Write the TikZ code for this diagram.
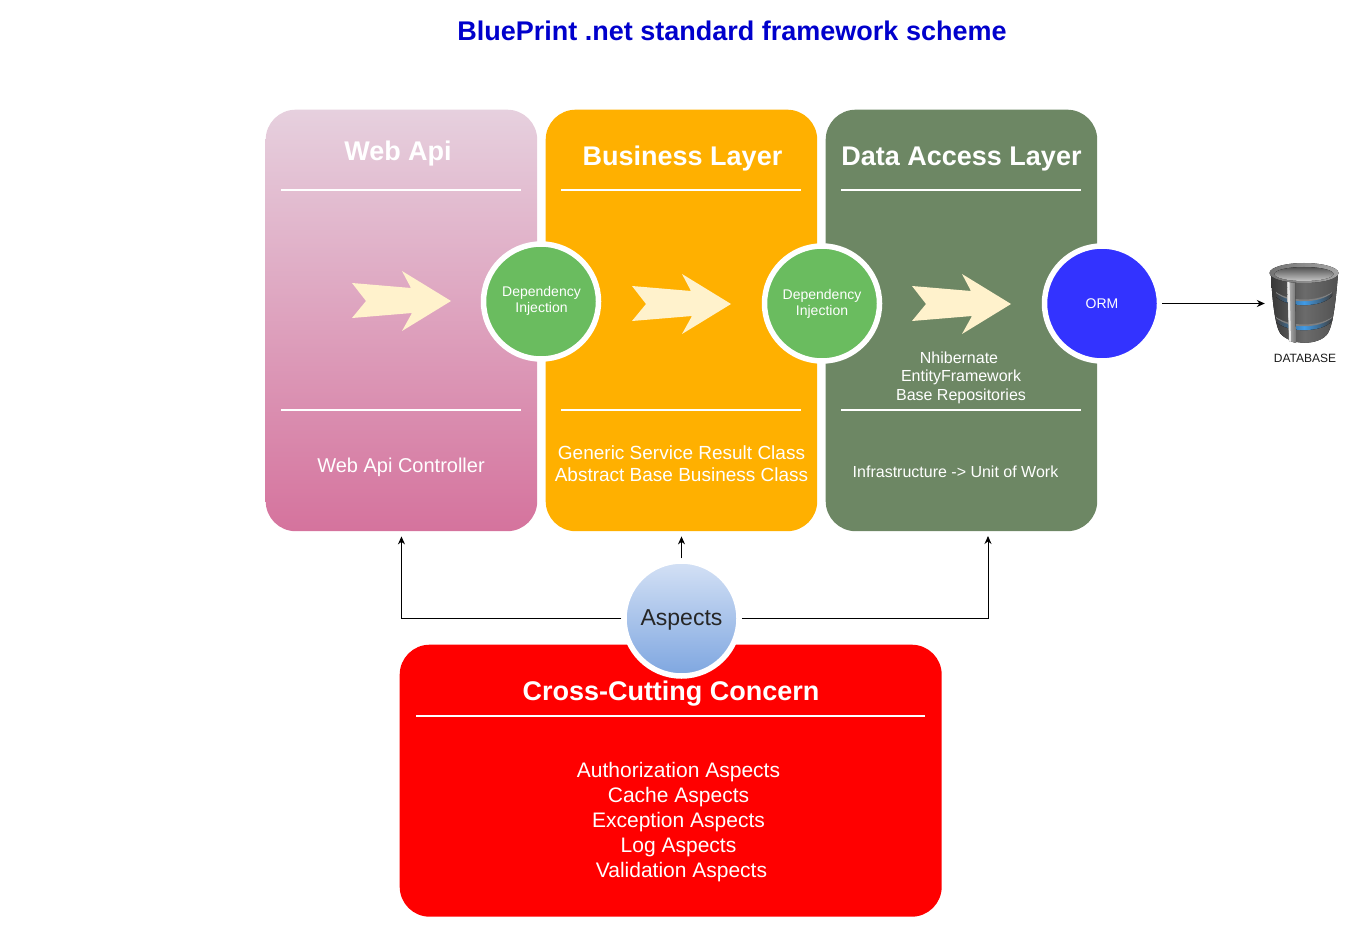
\documentclass[tikz,border=0pt]{standalone}
\usepackage{fontspec}
\setmainfont{Liberation Sans}
\usetikzlibrary{arrows.meta}
\definecolor{titleblue}{HTML}{0000CC}
\definecolor{webtop}{HTML}{E6D0DE}
\definecolor{webbot}{HTML}{D5739D}
\definecolor{bizfill}{HTML}{FFB000}
\definecolor{dalfill}{HTML}{6D8764}
\definecolor{digreen}{HTML}{6ABC5F}
\definecolor{ormblue}{HTML}{3333FF}
\definecolor{arrowcream}{HTML}{FFF2CC}
\definecolor{asptop}{HTML}{D4E1F5}
\definecolor{aspbot}{HTML}{7EA6E0}
\definecolor{dbblue}{HTML}{3F9BE8}
\tikzset{
  x=1pt,y=-1pt,
  panel/.style={rounded corners=30,minimum width=271.5,minimum height=421.5,inner sep=0,anchor=north west},
  rule/.style={draw=white,line width=1.6},
  ptitle/.style={text=white,font=\fontsize{27}{30}\selectfont\bfseries,inner sep=0},
  ptext/.style={text=white,font=\fontsize{20}{23}\selectfont,inner sep=0,align=center},
  btext/.style={text=white,font=\fontsize{19}{22}\selectfont,inner sep=0,align=center},
  ctext/.style={text=white,font=\fontsize{21}{24}\selectfont,inner sep=0,align=center},
  stext/.style={text=white,font=\fontsize{16}{19}\selectfont,inner sep=0,align=center},
  ditext/.style={text=white,font=\fontsize{14}{16}\selectfont,inner sep=0,align=center},
  ring/.style={circle,fill=#1,draw=white,line width=5.5,minimum size=115,inner sep=0,outer sep=2.75},
  conn/.style={draw=black,line width=1,-{Stealth[length=8,width=7]}},
  chevron/.style={fill=arrowcream},
}
\newcommand{\chev}[2]{\fill[chevron,shift={(#1,#2)}] (352,283) -- (411,288) -- (402,271) -- (451,301) -- (402,331) -- (412,313) -- (352,318) -- (366,301) -- cycle;}
\newcommand{\dbband}[1]{\fill[left color=black!75,right color=black!75,middle color=dbblue,shift={(0,#1)}]
  (1276,291) .. controls (1290,302) and (1318,302) .. (1332,291) -- (1332,295) .. controls (1322,307) and (1288,307) .. (1276,296) -- cycle;
  \fill[black!50,shift={(0,#1)}] (1276,292) .. controls (1290,303) and (1318,303) .. (1332,292) -- (1332,291) .. controls (1318,301) and (1290,301) .. (1276,291) -- cycle;}
\begin{document}
\begin{tikzpicture}
\useasboundingbox (0,0) rectangle (1346,925);
\node (title) [font=\fontsize{27}{30}\selectfont\bfseries,text=titleblue,inner sep=0] at (732,31) {BluePrint .net standard framework scheme};

\node (web) [panel,top color=webtop,bottom color=webbot] at (265.5,109.5) {};
\node (biz) [panel,fill=bizfill] at (545.5,109.5) {};
\node (dal) [panel,fill=dalfill] at (825.5,109.5) {};

\node (webt) [ptitle] at (398,154) {Web Api};
\node (bizt) [ptitle] at (682.5,159) {Business Layer};
\node (dalt) [ptitle] at (961.5,159) {Data Access Layer};

\foreach \a/\b in {281/521,561/801,841/1081}{
  \draw[rule] (\a,190) -- (\b,190);
  \draw[rule] (\a,410) -- (\b,410);
}

\chev{0}{0}
\chev{280}{3}
\chev{560}{3}

\node (webc) [ptext] at (401,467) {Web Api Controller};
\node (biz1) [btext] at (681.5,453) {Generic Service Result Class};
\node (biz2) [btext] at (681.5,475) {Abstract Base Business Class};
\node (dal1) [stext] at (959,358) {Nhibernate};
\node (dal2) [stext] at (961,377) {EntityFramework};
\node (dal3) [stext] at (961,396) {Base Repositories};
\node (dal4) [stext] at (955.5,472) {Infrastructure -> Unit of Work};

\node (di1) [ring=digreen] at (541,301.5) {};
\node (di1t) [ditext] at (541.5,301) {Dependency\\Injection};
\node (di2) [ring=digreen,ditext] at (822,303.5) {Dependency\\Injection};
\node (orm) [ring=ormblue,ditext] at (1102,303.5) {ORM};

\node (cross) [rounded corners=30,fill=red,minimum width=542,minimum height=272,inner sep=0,anchor=north west] at (399.5,644.5) {};
\node (asp) [ring=asptop,shading=axis,top color=asptop,bottom color=aspbot,draw=white] at (681.5,618.5) {};
\node (aspt) [font=\fontsize{23}{26}\selectfont,text=black!85,inner sep=0] at (681.5,620) {Aspects};
\node (crosst) [ptitle] at (671,694) {Cross-Cutting Concern};
\draw[rule] (416,716) -- (925,716);
\node (c1) [ctext] at (678.5,772) {Authorization Aspects};
\node (c2) [ctext] at (678.5,797) {Cache Aspects};
\node (c3) [ctext] at (678.5,822) {Exception Aspects};
\node (c4) [ctext] at (678.5,847) {Log Aspects};
\node (c5) [ctext] at (681.5,872) {Validation Aspects};

% database
\node (db) [minimum width=72,minimum height=84,inner sep=0] at (1304,303.5) {};
\node (dbl) [font=\fontsize{12}{14}\selectfont,text=black!90,inner sep=0] at (1305,358) {DATABASE};
\fill[left color=black!78,right color=black!68,middle color=black!58]
  (1271,274) .. controls (1272,300) and (1275,325) .. (1280,333)
  .. controls (1290,346) and (1320,346) .. (1328,333)
  .. controls (1333,325) and (1336,300) .. (1338,274) -- cycle;
\dbband{1}
\dbband{26}
\fill[left color=black!25,right color=black!55] (1287,280) -- (1295,282) -- (1296,343) -- (1289,341) -- cycle;
\fill[black!8] (1287.5,280) -- (1289.5,281) -- (1291,342) -- (1289,341) -- cycle;
\fill[left color=black!55,right color=black!35] (1304,273) ellipse [x radius=34.5,y radius=10];
\fill[top color=black!68,bottom color=black!22] (1304,274) ellipse [x radius=29.5,y radius=7];

\coordinate (dalin) at (988,531);
\draw[conn,shorten >=5] (asp.west) -| (web.south);
\draw[conn,shorten >=5] (asp.north) -- (asp.north |- biz.south);
\draw[conn,shorten >=5] (asp.east) -| (dalin);
\draw[conn,shorten >=3] (orm.east) -- (db.west);
\end{tikzpicture}
\end{document}
